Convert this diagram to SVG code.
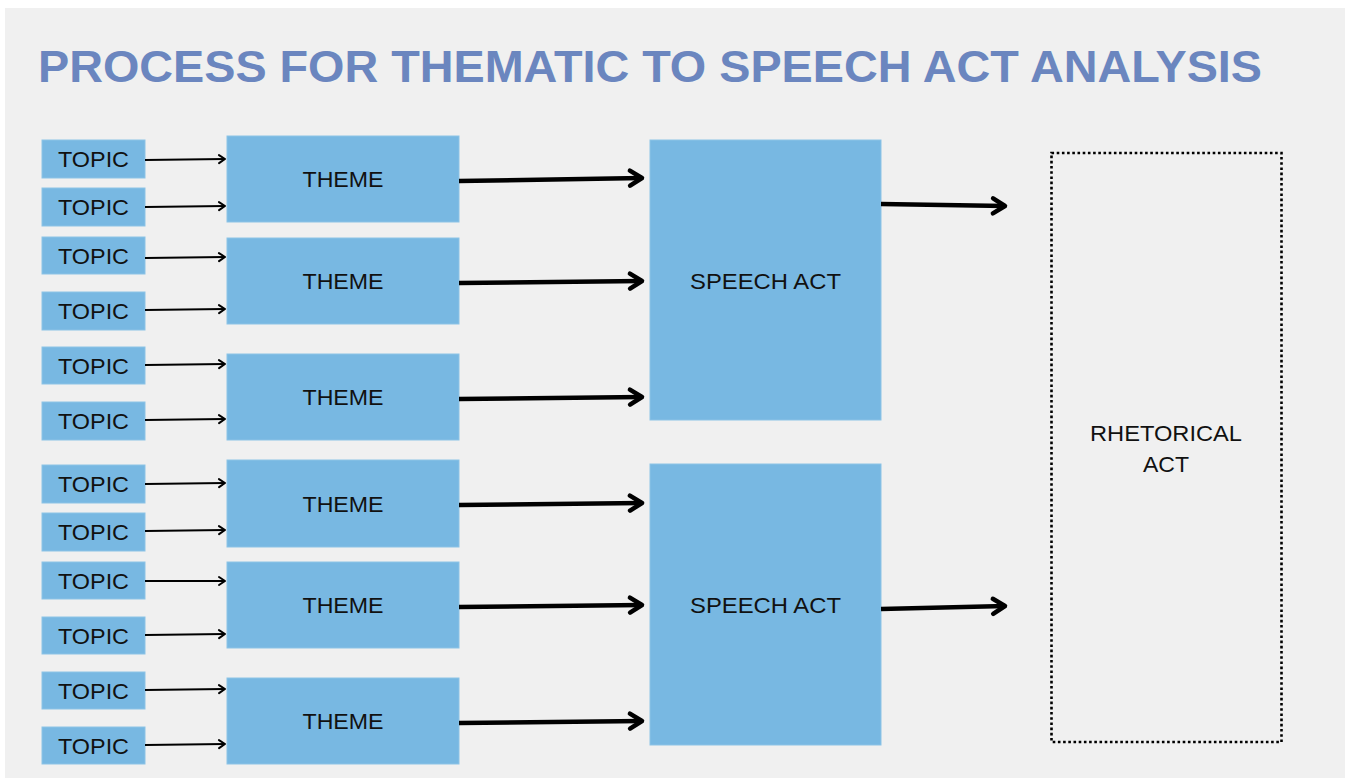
<svg xmlns="http://www.w3.org/2000/svg" width="1349" height="782" viewBox="0 0 1349 782">
  <defs>
    <style>
      .box { fill: #78b8e2; stroke: #8cc3e6; stroke-width: 1; }
      .lbl { font-family: "Liberation Sans", Arial, sans-serif; font-size: 22px; fill: #111; text-anchor: middle; }
      .title { font-family: "Liberation Sans", Arial, sans-serif; font-weight: bold; font-size: 45px; fill: #6b86bf; }
      .thin { stroke: #000; stroke-width: 2; fill: none; marker-end: url(#headThin); }
      .thick { stroke: #000; stroke-width: 4.5; fill: none; marker-end: url(#headThick); }
    </style>
    <marker id="headThin" markerUnits="userSpaceOnUse" viewBox="-10 -8 14 16" markerWidth="14" markerHeight="16" refX="0" refY="0" orient="auto" overflow="visible">
      <path d="M-6,-4 L0,0 L-6,4" fill="none" stroke="#000" stroke-width="2" stroke-linecap="round" stroke-linejoin="round"/>
    </marker>
    <marker id="headThick" markerUnits="userSpaceOnUse" viewBox="-18 -12 24 24" markerWidth="24" markerHeight="24" refX="0" refY="0" orient="auto" overflow="visible">
      <path d="M-12,-7.5 L0,0 L-12,7.5" fill="none" stroke="#000" stroke-width="4.5" stroke-linecap="round" stroke-linejoin="round"/>
    </marker>
  </defs>

  <rect x="0" y="0" width="1349" height="782" fill="#ffffff"/>
  <rect x="5" y="8" width="1340" height="770" fill="#f0f0f0"/>

  <text class="title" x="38" y="82" textLength="1224" lengthAdjust="spacingAndGlyphs">PROCESS FOR THEMATIC TO SPEECH ACT ANALYSIS</text>

  <!-- Topics -->
  <g id="topic1"><rect class="box" x="42" y="140" width="103" height="38"/><text class="lbl" x="93.5" y="167" textLength="71" lengthAdjust="spacingAndGlyphs">TOPIC</text></g>
  <g id="topic2"><rect class="box" x="42" y="188" width="103" height="38"/><text class="lbl" x="93.5" y="215" textLength="71" lengthAdjust="spacingAndGlyphs">TOPIC</text></g>
  <g id="topic3"><rect class="box" x="42" y="237" width="103" height="37"/><text class="lbl" x="93.5" y="263.5" textLength="71" lengthAdjust="spacingAndGlyphs">TOPIC</text></g>
  <g id="topic4"><rect class="box" x="42" y="292" width="103" height="38"/><text class="lbl" x="93.5" y="319" textLength="71" lengthAdjust="spacingAndGlyphs">TOPIC</text></g>
  <g id="topic5"><rect class="box" x="42" y="347" width="103" height="37"/><text class="lbl" x="93.5" y="373.5" textLength="71" lengthAdjust="spacingAndGlyphs">TOPIC</text></g>
  <g id="topic6"><rect class="box" x="42" y="402" width="103" height="38"/><text class="lbl" x="93.5" y="429" textLength="71" lengthAdjust="spacingAndGlyphs">TOPIC</text></g>
  <g id="topic7"><rect class="box" x="42" y="465" width="103" height="38"/><text class="lbl" x="93.5" y="492" textLength="71" lengthAdjust="spacingAndGlyphs">TOPIC</text></g>
  <g id="topic8"><rect class="box" x="42" y="513" width="103" height="38"/><text class="lbl" x="93.5" y="540" textLength="71" lengthAdjust="spacingAndGlyphs">TOPIC</text></g>
  <g id="topic9"><rect class="box" x="42" y="562" width="103" height="37"/><text class="lbl" x="93.5" y="588.5" textLength="71" lengthAdjust="spacingAndGlyphs">TOPIC</text></g>
  <g id="topic10"><rect class="box" x="42" y="617" width="103" height="37"/><text class="lbl" x="93.5" y="643.5" textLength="71" lengthAdjust="spacingAndGlyphs">TOPIC</text></g>
  <g id="topic11"><rect class="box" x="42" y="672" width="103" height="37"/><text class="lbl" x="93.5" y="698.5" textLength="71" lengthAdjust="spacingAndGlyphs">TOPIC</text></g>
  <g id="topic12"><rect class="box" x="42" y="727" width="103" height="37"/><text class="lbl" x="93.5" y="753.5" textLength="71" lengthAdjust="spacingAndGlyphs">TOPIC</text></g>

  <!-- Themes -->
  <g id="theme1"><rect class="box" x="227" y="136" width="232" height="86"/><text class="lbl" x="343" y="187" textLength="81" lengthAdjust="spacingAndGlyphs">THEME</text></g>
  <g id="theme2"><rect class="box" x="227" y="238" width="232" height="86"/><text class="lbl" x="343" y="289" textLength="81" lengthAdjust="spacingAndGlyphs">THEME</text></g>
  <g id="theme3"><rect class="box" x="227" y="354" width="232" height="86"/><text class="lbl" x="343" y="405" textLength="81" lengthAdjust="spacingAndGlyphs">THEME</text></g>
  <g id="theme4"><rect class="box" x="227" y="460" width="232" height="87"/><text class="lbl" x="343" y="511.5" textLength="81" lengthAdjust="spacingAndGlyphs">THEME</text></g>
  <g id="theme5"><rect class="box" x="227" y="562" width="232" height="86"/><text class="lbl" x="343" y="613" textLength="81" lengthAdjust="spacingAndGlyphs">THEME</text></g>
  <g id="theme6"><rect class="box" x="227" y="678" width="232" height="86"/><text class="lbl" x="343" y="729" textLength="81" lengthAdjust="spacingAndGlyphs">THEME</text></g>

  <!-- Speech acts -->
  <g id="speech1"><rect class="box" x="650" y="140" width="231" height="280"/><text class="lbl" x="765.5" y="288.5" textLength="151" lengthAdjust="spacingAndGlyphs">SPEECH ACT</text></g>
  <g id="speech2"><rect class="box" x="650" y="464" width="231" height="281"/><text class="lbl" x="765.5" y="612.5" textLength="151" lengthAdjust="spacingAndGlyphs">SPEECH ACT</text></g>

  <!-- Rhetorical act -->
  <g id="rhetorical">
    <rect x="1051.5" y="153" width="230" height="589" fill="none" stroke="#000" stroke-width="2.6" stroke-dasharray="2.6 2.6"/>
    <text class="lbl" x="1166" y="441" textLength="152" lengthAdjust="spacingAndGlyphs">RHETORICAL</text>
    <text class="lbl" x="1166" y="472" textLength="46" lengthAdjust="spacingAndGlyphs">ACT</text>
  </g>

  <!-- Connectors -->
  <g id="connectors">
    <line class="thin" x1="145" y1="160" x2="225" y2="159"/>
    <line class="thin" x1="145" y1="207" x2="225" y2="206"/>
    <line class="thin" x1="145" y1="258" x2="225" y2="257"/>
    <line class="thin" x1="145" y1="310" x2="225" y2="309"/>
    <line class="thin" x1="145" y1="365" x2="225" y2="364"/>
    <line class="thin" x1="145" y1="420" x2="225" y2="419"/>
    <line class="thin" x1="145" y1="484" x2="225" y2="483"/>
    <line class="thin" x1="145" y1="531" x2="225" y2="530"/>
    <line class="thin" x1="145" y1="581" x2="225" y2="581"/>
    <line class="thin" x1="145" y1="635" x2="225" y2="634"/>
    <line class="thin" x1="145" y1="690" x2="225" y2="689"/>
    <line class="thin" x1="145" y1="745" x2="225" y2="744"/>

    <line class="thick" x1="459" y1="181" x2="642" y2="178"/>
    <line class="thick" x1="459" y1="283" x2="642" y2="281"/>
    <line class="thick" x1="459" y1="399" x2="642" y2="397"/>
    <line class="thick" x1="459" y1="505" x2="642" y2="503"/>
    <line class="thick" x1="459" y1="607" x2="642" y2="605"/>
    <line class="thick" x1="459" y1="723" x2="642" y2="721"/>

    <line class="thick" x1="881" y1="204" x2="1005" y2="206"/>
    <line class="thick" x1="881" y1="609" x2="1005" y2="606"/>
  </g>
</svg>
